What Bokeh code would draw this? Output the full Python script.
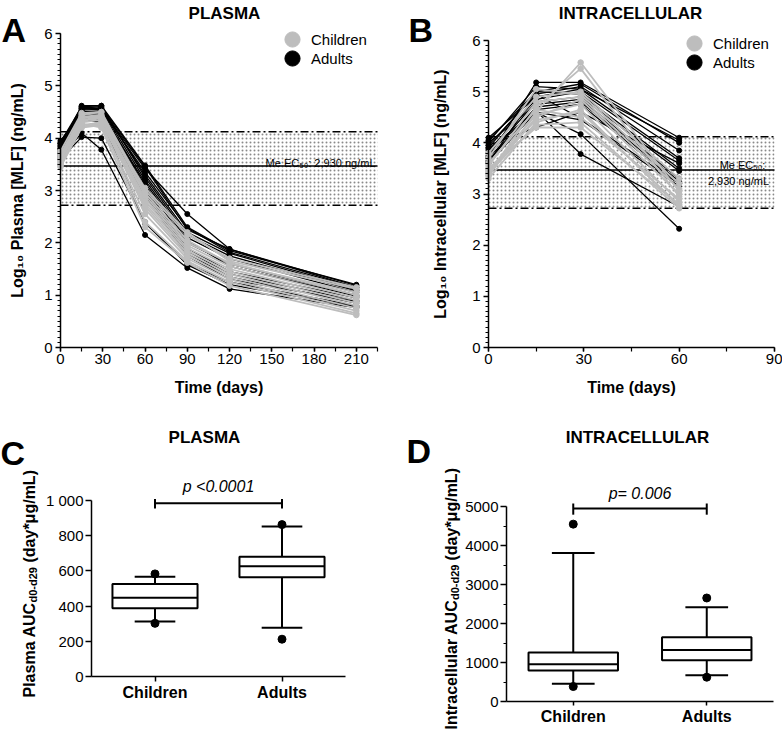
import math
from bokeh.plotting import figure
from bokeh.layouts import row, column
from bokeh.models import (Range1d, SingleIntervalTicker, FixedTicker, BoxAnnotation,
                          Label, Legend, LegendItem)
from bokeh.embed import file_html
from bokeh.resources import INLINE

FONT = "Liberation Sans"
GRAY = "#bdbdbd"

# ---------------- data ----------------
plasma_days = [0, 15, 29, 60, 90, 120, 210]
plasma_children = [
    [3.55, 4.35, 4.40, 2.85, 1.95, 1.55, 0.95],
    [3.60, 4.40, 4.45, 2.95, 2.05, 1.60, 1.05],
    [3.50, 4.25, 4.30, 2.70, 1.80, 1.40, 0.80],
    [3.65, 4.45, 4.50, 3.00, 2.15, 1.70, 1.15],
    [3.45, 4.20, 4.25, 2.55, 1.70, 1.30, 0.70],
    [3.70, 4.38, 4.42, 2.80, 1.90, 1.50, 0.90],
    [3.58, 4.30, 4.35, 2.65, 1.75, 1.35, 0.75],
    [3.75, 4.48, 4.50, 2.90, 2.00, 1.62, 1.00],
    [3.52, 4.22, 4.28, 2.40, 1.65, 1.25, 0.65],
    [3.62, 4.33, 4.38, 2.75, 1.85, 1.45, 0.85],
    [3.68, 4.42, 4.40, 3.05, 2.20, 1.65, 1.12],
    [3.48, 4.28, 4.20, 2.30, 1.62, 1.18, 0.62],
]
plasma_adults = [
    [3.85, 4.62, 4.62, 3.48, 2.30, 1.85, 1.20],
    [3.80, 4.58, 4.60, 3.45, 2.25, 1.88, 1.18],
    [3.90, 4.55, 4.58, 3.30, 2.20, 1.80, 1.10],
    [3.75, 4.60, 4.55, 3.20, 2.10, 1.70, 1.05],
    [3.95, 4.50, 4.52, 3.10, 2.00, 1.60, 1.00],
    [3.70, 4.52, 4.50, 3.05, 1.90, 1.45, 0.95],
    [3.82, 4.48, 4.45, 3.00, 1.85, 1.40, 0.90],
    [3.65, 4.45, 4.40, 2.95, 1.80, 1.35, 0.85],
    [3.78, 4.40, 4.35, 2.38, 1.60, 1.25, 0.80],
    [3.62, 4.10, 3.78, 2.15, 1.52, 1.12, 0.76],
    [3.60, 4.02, 4.00, 2.40, 1.58, 1.20, 0.78],
    [3.88, 4.57, 4.56, 3.42, 2.55, 1.88, 1.15],
    [3.72, 4.56, 4.54, 3.35, 2.28, 1.82, 1.14],
    [3.92, 4.60, 4.62, 3.25, 2.15, 1.75, 1.08],
    [3.68, 4.35, 4.30, 2.90, 1.75, 1.30, 0.88],
    [3.85, 4.50, 4.48, 3.15, 2.05, 1.55, 0.98],
]

ic_days = [0, 15, 29, 60]
ic_children = [
    [3.35, 4.60, 5.57, 3.05],
    [3.40, 4.70, 5.45, 2.95],
    [3.30, 4.40, 4.65, 2.75],
    [3.45, 4.55, 4.75, 2.85],
    [3.50, 4.30, 4.30, 2.80],
    [3.55, 4.80, 4.90, 3.10],
    [3.60, 4.65, 4.50, 2.90],
    [3.38, 4.50, 4.85, 3.00],
    [3.70, 5.05, 4.95, 3.20],
    [3.48, 4.45, 4.60, 2.78],
    [3.80, 4.90, 5.00, 3.30],
    [3.42, 4.35, 4.40, 2.72],
]
ic_adults = [
    [3.70, 5.18, 5.18, 4.10],
    [4.05, 5.00, 5.15, 4.00],
    [3.95, 4.95, 5.10, 3.85],
    [4.10, 4.90, 5.05, 3.70],
    [3.85, 4.85, 5.00, 3.65],
    [3.90, 5.00, 4.95, 3.50],
    [3.75, 4.80, 4.90, 3.45],
    [4.00, 4.75, 4.85, 3.30],
    [3.65, 4.70, 4.80, 3.25],
    [3.80, 4.65, 4.75, 3.20],
    [3.60, 4.60, 4.45, 3.15],
    [3.88, 4.62, 3.78, 2.75],
    [3.72, 4.60, 4.17, 2.32],
    [3.95, 4.30, 4.60, 3.60],
    [3.62, 4.95, 4.48, 3.20],
    [4.02, 5.10, 5.05, 4.05],
]

ec50_median = 2930    # ng/mL
ec50_low = 525        # ng/mL
ec50_high = 13200     # ng/mL

groups = ["Children", "Adults"]

plasma_auc_min = [302, 212]
plasma_auc_whisker_low = [313, 277]
plasma_auc_q1 = [388, 564]
plasma_auc_median = [448, 626]
plasma_auc_q3 = [526, 681]
plasma_auc_whisker_high = [567, 852]
plasma_auc_max = [583, 863]
plasma_auc_ticks = [0, 200, 400, 600, 800, 1000]
plasma_auc_tick_labels = ["0", "200", "400", "600", "800", "1 000"]
plasma_p_text = "p <0.0001"
plasma_bracket = 985

ic_auc_min = [384, 623]
ic_auc_whisker_low = [452, 674]
ic_auc_q1 = [794, 1058]
ic_auc_median = [956, 1323]
ic_auc_q3 = [1254, 1647]
ic_auc_whisker_high = [3805, 2415]
ic_auc_max = [4548, 2654]
ic_auc_ticks = [0, 1000, 2000, 3000, 4000, 5000]
ic_auc_minor_ticks = [500, 1500, 2500, 3500, 4500]
ic_p_text = "p= 0.006"
ic_bracket = 4950


# ---------------- layout geometry (page pixels) ----------------
class Geo:
    def __init__(self, left, top, w, h, ax_x0, ax_x1, xmax, ax_y0, ax_y1, ymax):
        self.left, self.top, self.w, self.h = left, top, w, h
        self.xs = (ax_x1 - ax_x0) / xmax
        self.ys = (ax_y0 - ax_y1) / ymax
        self.xr = ((left - ax_x0) / self.xs, (left + w - ax_x0) / self.xs)
        self.yr = ((ax_y0 - (top + h)) / self.ys, (ax_y0 - top) / self.ys)
        self.xmax, self.ymax = xmax, ymax

    def sx(self, X):
        return X - self.left

    def sy(self, Y):
        return self.top + self.h - Y


def make_fig(g):
    p = figure(width=g.w, height=g.h, x_range=Range1d(*g.xr), y_range=Range1d(*g.yr),
               output_backend="svg", toolbar_location=None, min_border=0,
               min_border_left=0, min_border_right=0, min_border_top=0, min_border_bottom=0)
    p.title.visible = False
    p.outline_line_color = None
    p.xgrid.visible = False
    p.ygrid.visible = False
    p.background_fill_color = "white"
    p.border_fill_color = "white"
    p.xaxis.fixed_location = 0
    p.yaxis.fixed_location = 0
    p.xaxis.bounds = (0, g.xmax)
    p.yaxis.bounds = (0, g.ymax)
    for ax in p.axis:
        ax.axis_line_width = 1.5
        ax.axis_line_color = "black"
        ax.major_tick_line_width = 1.5
        ax.minor_tick_line_width = 1.2
        ax.major_tick_in = 0
        ax.minor_tick_in = 0
        ax.major_label_text_font = FONT
        ax.major_label_text_font_size = "15px"
        ax.major_label_text_color = "black"
        ax.axis_label_text_font = FONT
        ax.axis_label_text_font_size = "16px"
        ax.axis_label_text_font_style = "bold"
        ax.axis_label_text_color = "black"
    return p


def lbl(p, g, text, X, Y, size, style_="bold", align="left", baseline="alphabetic", angle=0.0):
    p.add_layout(Label(x=g.sx(X), y=g.sy(Y), x_units="screen", y_units="screen", text=text,
                       text_font=FONT, text_font_size=f"{size}px",
                       text_font_style=style_, text_align=align,
                       text_baseline=baseline, angle=angle, text_color="black"))


def legend(p, g, renderer, label, cx, cy, text_x):
    box = 38
    leg = Legend(items=[LegendItem(label=label, renderers=[renderer])],
                 location=(g.sx(cx - box / 2), g.sy(cy + box / 2)),
                 glyph_width=box, glyph_height=box, spacing=0,
                 label_standoff=int(round(text_x - (cx + box / 2))), padding=0, margin=0,
                 border_line_alpha=0, background_fill_alpha=0,
                 label_text_font=FONT, label_text_font_size="15px",
                 label_text_color="black")
    p.add_layout(leg)


def time_panel(g, days, children, adults, ylabel, ylabel_standoff):
    p = make_fig(g)
    p.xaxis.ticker = SingleIntervalTicker(interval=30, num_minor_ticks=2)
    p.yaxis.ticker = SingleIntervalTicker(interval=1, num_minor_ticks=10)
    p.xaxis.major_tick_out = 4
    p.xaxis.minor_tick_out = 4
    p.yaxis.major_tick_out = 5
    p.yaxis.minor_tick_out = 3
    p.xaxis.major_label_standoff = 2
    p.yaxis.major_label_standoff = 3
    p.xaxis.axis_label = "Time (days)"
    p.xaxis.axis_label_standoff = 12
    p.yaxis.axis_label = ylabel
    p.yaxis.axis_label_standoff = ylabel_standoff

    lo, hi, med = math.log10(ec50_low), math.log10(ec50_high), math.log10(ec50_median)
    p.add_layout(BoxAnnotation(left=0, right=g.xmax, bottom=lo, top=hi, fill_alpha=0,
                               line_alpha=0, hatch_pattern="dot", hatch_color="#8a8a8a",
                               hatch_scale=4, hatch_weight=1, level="underlay"))
    p.segment(x0=[0, 0], y0=[lo, hi], x1=[g.xmax, g.xmax], y1=[lo, hi],
              line_color="black", line_width=1.5, line_dash="8 3 2 3")
    p.segment(x0=[0], y0=[med], x1=[g.xmax], y1=[med], line_color="black", line_width=1.5)

    p.multi_line(xs=[days] * len(adults), ys=adults, line_color="black", line_width=1.3)
    ra = p.scatter(x=[d for _ in adults for d in days], y=[v for s in adults for v in s],
                   size=5, color="black")
    p.multi_line(xs=[days] * len(children), ys=children, line_color=GRAY, line_width=1.8)
    rc = p.scatter(x=[d for _ in children for d in days], y=[v for s in children for v in s],
                   size=5.5, color=GRAY)
    return p, rc, ra


def box_panel(g, mins, wlo, q1, med, q3, whi, maxs):
    p = make_fig(g)
    xc = [i + 0.5 for i in range(len(groups))]
    p.xaxis.ticker = FixedTicker(ticks=xc)
    p.xaxis.major_label_overrides = {x: gname for x, gname in zip(xc, groups)}
    p.xaxis.major_label_text_font_style = "bold"
    p.xaxis.major_label_text_font_size = "16px"
    p.xaxis.major_tick_out = 5
    p.xaxis.major_label_standoff = 2
    p.yaxis.major_tick_out = 6
    p.yaxis.minor_tick_out = 3
    p.yaxis.major_label_standoff = 2

    hw, cw = 0.335, 0.16
    p.segment(x0=xc, y0=q3, x1=xc, y1=whi, line_color="black", line_width=2)
    p.segment(x0=xc, y0=q1, x1=xc, y1=wlo, line_color="black", line_width=2)
    p.segment(x0=[x - cw for x in xc], y0=whi, x1=[x + cw for x in xc], y1=whi,
              line_color="black", line_width=2)
    p.segment(x0=[x - cw for x in xc], y0=wlo, x1=[x + cw for x in xc], y1=wlo,
              line_color="black", line_width=2)
    p.quad(left=[x - hw for x in xc], right=[x + hw for x in xc], bottom=q1, top=q3,
           fill_color="white", line_color="black", line_width=2)
    p.segment(x0=[x - hw for x in xc], y0=med, x1=[x + hw for x in xc], y1=med,
              line_color="black", line_width=2)
    p.scatter(x=xc + xc, y=list(maxs) + list(mins), size=8, color="black")
    return p, xc


def bracket(p, xc, level, cap, text, text_y):
    p.segment(x0=[xc[0], xc[0], xc[1]], y0=[level, level - cap, level - cap],
              x1=[xc[1], xc[0], xc[1]], y1=[level, level + cap * 0.8, level + cap * 0.8],
              line_color="black", line_width=2)
    p.add_layout(Label(x=(xc[0] + xc[1]) / 2, y=text_y, text=text, text_font=FONT,
                       text_font_size="16px", text_font_style="italic",
                       text_align="center", text_baseline="middle", text_color="black"))


ang = math.pi / 2

# ---------------- panel A ----------------
gA = Geo(0, 0, 391, 400, 60, 377, 225, 347, 33, 6)
pA, rcA, raA = time_panel(gA, plasma_days, plasma_children, plasma_adults,
                          "Log\u2081\u2080 Plasma [MLF] (ng/mL)", 15)
legend(pA, gA, rcA, groups[0], 292, 39, 309)
legend(pA, gA, raA, groups[1], 292, 58, 309)
lbl(pA, gA, "A", 1, 29, 34)
lbl(pA, gA, "PLASMA", 224, 13, 17, align="center", baseline="middle")
lbl(pA, gA, "Me EC\u2085\u2080: 2,930 ng/mL", 375, 162, 11, style_="normal", align="right")

# ---------------- panel B ----------------
gB = Geo(391, 0, 391, 400, 488, 774, 90, 347, 40, 6)
pB, rcB, raB = time_panel(gB, ic_days, ic_children, ic_adults,
                          "Log\u2081\u2080 Intracellular [MLF] (ng/mL)", 20)
legend(pB, gB, rcB, groups[0], 694, 43, 712)
legend(pB, gB, raB, groups[1], 694, 62, 712)
lbl(pB, gB, "B", 408, 29, 34)
lbl(pB, gB, "INTRACELLULAR", 630, 13, 17, align="center", baseline="middle")
lbl(pB, gB, "Me EC\u2085\u2080:", 742, 164, 11, style_="normal", align="center")
lbl(pB, gB, "2,930 ng/mL", 738, 180, 11, style_="normal", align="center")

# ---------------- panel C ----------------
gC = Geo(0, 400, 391, 331, 91, 345, 2, 676, 500, 1000)
pC, xcC = box_panel(gC, plasma_auc_min, plasma_auc_whisker_low, plasma_auc_q1,
                    plasma_auc_median, plasma_auc_q3, plasma_auc_whisker_high, plasma_auc_max)
pC.yaxis.ticker = FixedTicker(ticks=plasma_auc_ticks)
pC.yaxis.major_label_overrides = {t: s for t, s in zip(plasma_auc_ticks, plasma_auc_tick_labels)}
bracket(pC, xcC, plasma_bracket, 30, plasma_p_text, 1080)
lbl(pC, gC, "C", 0, 452, 34)
lbl(pC, gC, "PLASMA", 204, 437, 17, align="center", baseline="middle")
lbl(pC, gC, "Plasma AUC", 29, 697, 16, angle=ang)
lbl(pC, gC, "d0-d29", 32.5, 602, 11, angle=ang)
lbl(pC, gC, "(day*\u03bcg/mL)", 29, 562, 16, angle=ang)

# ---------------- panel D ----------------
gD = Geo(391, 400, 391, 331, 506, 773, 2, 701, 506, 5000)
pD, xcD = box_panel(gD, ic_auc_min, ic_auc_whisker_low, ic_auc_q1, ic_auc_median,
                    ic_auc_q3, ic_auc_whisker_high, ic_auc_max)
pD.yaxis.ticker = FixedTicker(ticks=ic_auc_ticks, minor_ticks=ic_auc_minor_ticks)
pD.xaxis.major_tick_out = 4
bracket(pD, xcD, ic_bracket, 160, ic_p_text, 5345)
lbl(pD, gD, "D", 406, 450, 34)
lbl(pD, gD, "INTRACELLULAR", 637, 437, 17, align="center", baseline="middle")
lbl(pD, gD, "Intracellular AUC", 451, 729, 16, angle=ang)
lbl(pD, gD, "d0-d29", 454.5, 599.5, 11, angle=ang)
lbl(pD, gD, "(day*\u03bcg/mL)", 451, 560, 16, angle=ang)

layout = column(row(pA, pB), row(pC, pD))
open("out.html", "w").write(file_html(layout, INLINE))
